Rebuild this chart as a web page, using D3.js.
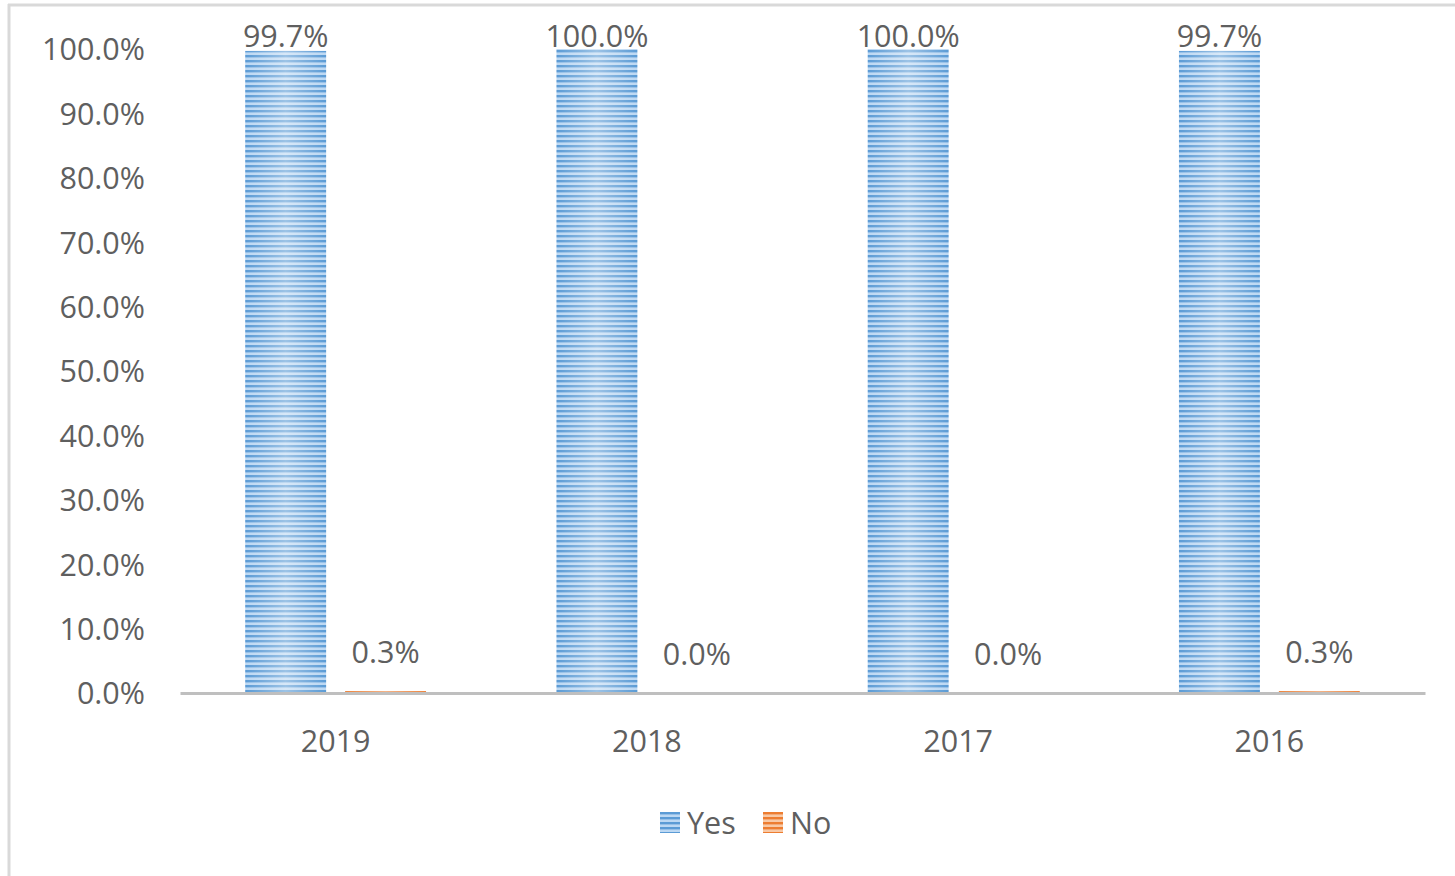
<!DOCTYPE html>
<html>
<head>
<meta charset="utf-8">
<script src="https://cdn.jsdelivr.net/npm/d3@7/dist/d3.min.js"></script>
<style>
  html, body { margin: 0; padding: 0; background: #fff; }
  svg { display: block; }
  text { font-family: "Open Sans", "Noto Sans", sans-serif; fill: #5f5f5f; font-weight: 400; }
</style>
</head>
<body>
<div id="chart"></div>
<script>
// Survey results by year (share of responses)
const categories = ["2019", "2018", "2017", "2016"];
const seriesNames = ["Yes", "No"];
const yesValues = [0.997, 1.000, 1.000, 0.997];
const noValues = [0.003, 0.000, 0.000, 0.003];
const yTicks = [0, 0.1, 0.2, 0.3, 0.4, 0.5, 0.6, 0.7, 0.8, 0.9, 1.0];

const W = 1455, H = 876;
const plot = { left: 180, right: 1425, top: 49, bottom: 693 };
const FONT = "30.5px";

const svg = d3.select("#chart").append("svg")
  .attr("width", W).attr("height", H);

const defs = svg.append("defs");

// Striped fills (narrow horizontal pattern) with a soft horizontal sheen
function stripedFill(id, dark, light, highlight) {
  const p = defs.append("pattern")
    .attr("id", id + "-stripe")
    .attr("patternUnits", "userSpaceOnUse")
    .attr("width", 8).attr("height", 5);
  p.append("rect").attr("width", 8).attr("height", 5).attr("fill", light);
  p.append("rect").attr("y", 0).attr("width", 8).attr("height", 2.4).attr("fill", dark);

  const g = defs.append("linearGradient")
    .attr("id", id + "-sheen")
    .attr("x1", "0%").attr("x2", "100%").attr("y1", "0%").attr("y2", "0%");
  g.append("stop").attr("offset", "0%").attr("stop-color", "#fff").attr("stop-opacity", 0);
  g.append("stop").attr("offset", "50%").attr("stop-color", highlight).attr("stop-opacity", 0.4);
  g.append("stop").attr("offset", "100%").attr("stop-color", "#fff").attr("stop-opacity", 0);
}
stripedFill("yes", "#5b9bd5", "#bcd8f3", "#ffffff");
stripedFill("no", "#ed7d31", "#f8c9a6", "#ffffff");

// Chart frame
svg.append("line").attr("x1", 8).attr("x2", W).attr("y1", 5).attr("y2", 5)
  .attr("stroke", "#d9d9d9").attr("stroke-width", 3);
svg.append("line").attr("x1", 9).attr("x2", 9).attr("y1", 4).attr("y2", H)
  .attr("stroke", "#d9d9d9").attr("stroke-width", 3);

const x0 = d3.scaleBand().domain(categories).range([plot.left, plot.right]).paddingInner(0).paddingOuter(0);
const barW = x0.bandwidth() * 0.26;
const barGap = x0.bandwidth() * 0.061;
const x1 = d3.scaleOrdinal().domain(seriesNames)
  .range([-(barW + barGap / 2), barGap / 2]);

const y = d3.scaleLinear().domain([0, 1]).range([plot.bottom, plot.top]);
const pct = d3.format(".1%");

// Y axis labels (no line, no ticks)
const yAxis = d3.axisLeft(y).tickValues(yTicks).tickFormat(pct).tickSize(0).tickPadding(0);
const yg = svg.append("g").attr("transform", `translate(145,0)`).call(yAxis);
yg.select(".domain").remove();
yg.selectAll("text").style("font-size", FONT).attr("fill", "#5f5f5f")
  .attr("font-family", null).attr("dy", "0.36em");

const data = seriesNames.map((s, si) => ({
  name: s,
  values: categories.map((c, i) => ({ cat: c, v: si === 0 ? yesValues[i] : noValues[i] }))
}));

const series = svg.append("g").selectAll("g").data(data).join("g");

series.each(function (d) {
  const g = d3.select(this);
  const key = d.name === "Yes" ? "yes" : "no";
  const bars = g.selectAll("g.bar").data(d.values).join("g").attr("class", "bar");
  bars.append("rect")
    .attr("x", v => x0(v.cat) + x0.bandwidth() / 2 + x1(d.name))
    .attr("y", v => y(v.v))
    .attr("width", barW)
    .attr("height", v => plot.bottom - y(v.v))
    .attr("fill", `url(#${key}-stripe)`);
  bars.append("rect")
    .attr("x", v => x0(v.cat) + x0.bandwidth() / 2 + x1(d.name))
    .attr("y", v => y(v.v))
    .attr("width", barW)
    .attr("height", v => plot.bottom - y(v.v))
    .attr("fill", `url(#${key}-sheen)`);
  // value labels
  bars.append("text")
    .attr("x", v => x0(v.cat) + x0.bandwidth() / 2 + x1(d.name) + barW / 2)
    .attr("y", v => Math.max(y(v.v) - 28, 47))
    .attr("text-anchor", "middle")
    .style("font-size", FONT)
    .text(v => pct(v.v));
});

// X axis baseline and category labels
const xAxis = d3.axisBottom(x0).tickSize(0).tickPadding(0);
const xg = svg.append("g").attr("transform", `translate(0,${plot.bottom})`).call(xAxis);
xg.select(".domain").attr("stroke", "#bfbfbf").attr("stroke-width", 3);
xg.selectAll("text").style("font-size", FONT).attr("fill", "#5f5f5f")
  .attr("font-family", null).attr("y", 59).attr("dy", 0);

// Legend
const legend = svg.append("g").attr("transform", "translate(660,812)");
const legendItems = [
  { name: "Yes", key: "yes", x: 0 },
  { name: "No", key: "no", x: 103 }
];
const li = legend.selectAll("g").data(legendItems).join("g")
  .attr("transform", d => `translate(${d.x},0)`);
li.append("rect").attr("width", 20).attr("height", 21).attr("fill", d => `url(#${d.key}-stripe)`);
li.append("text").attr("x", 27).attr("y", 22).style("font-size", FONT).text(d => d.name);
</script>
</body>
</html>
